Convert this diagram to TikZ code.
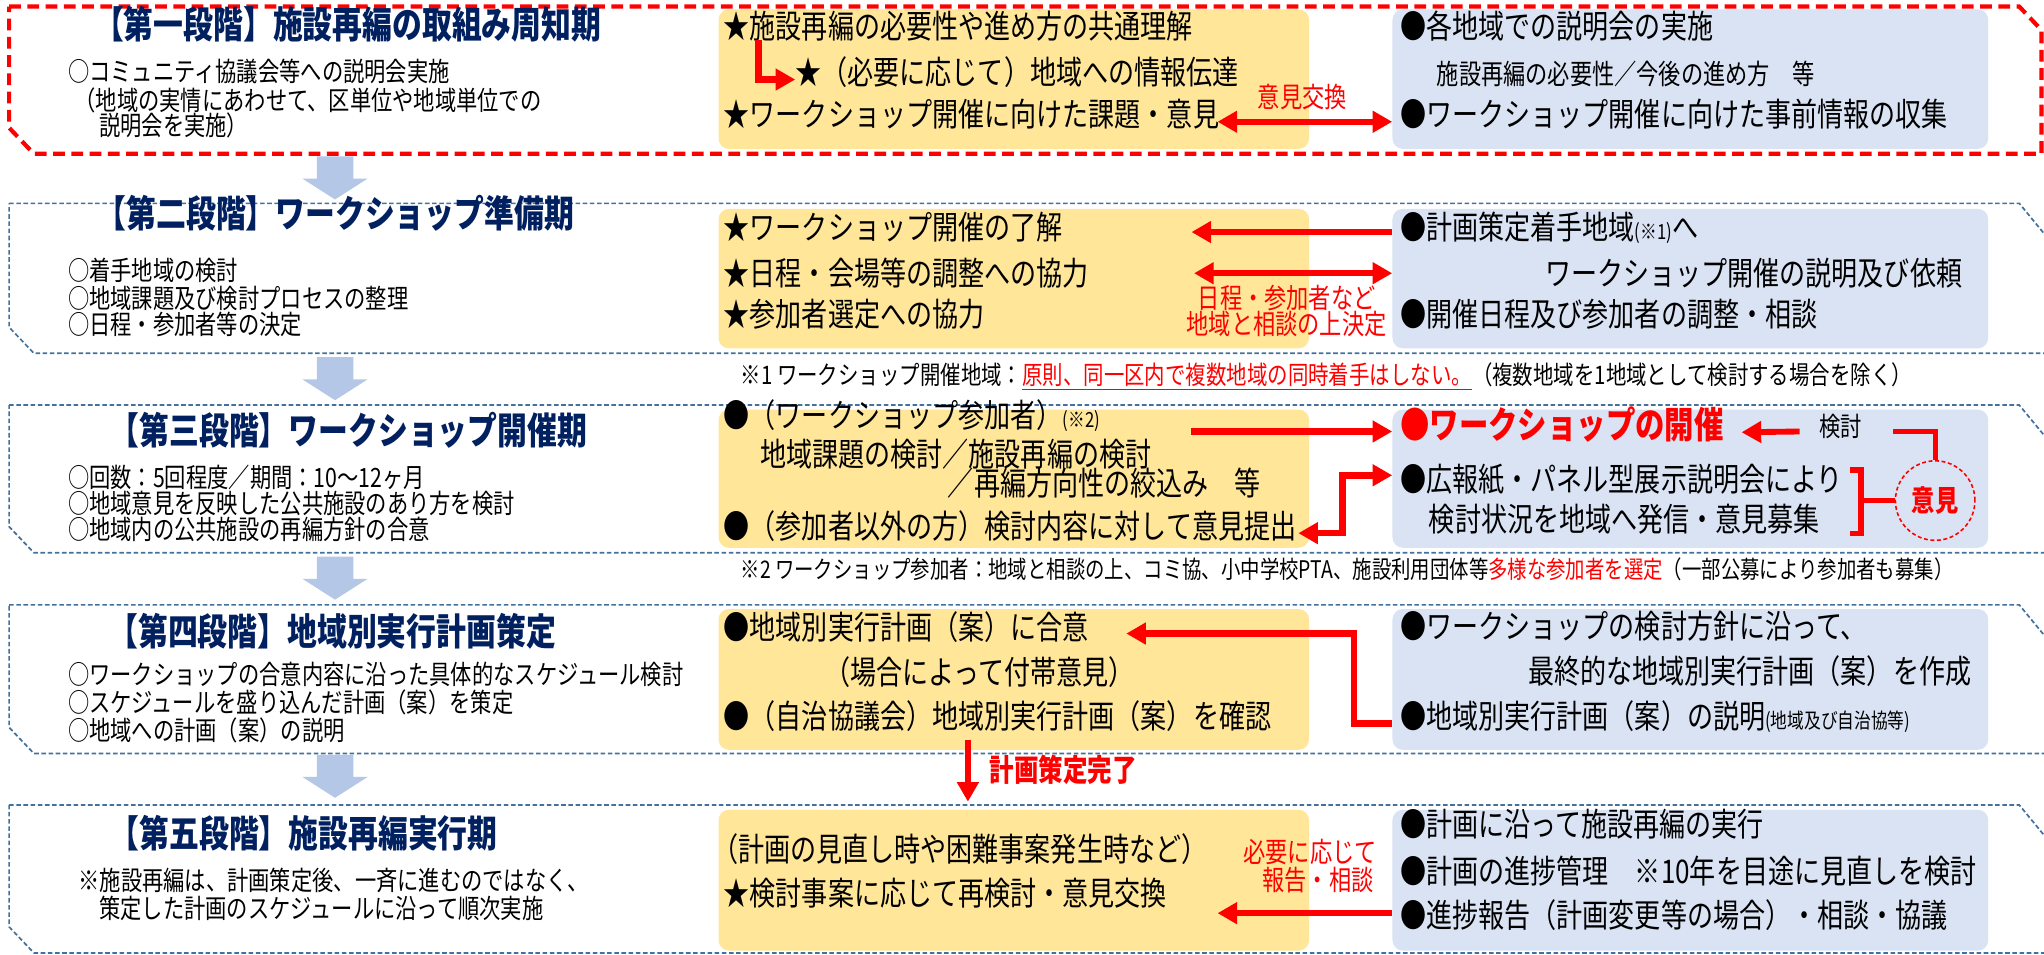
\documentclass[tikz,border=0pt]{standalone}
\usepackage{fontspec}
\setmainfont{Noto Sans CJK JP}[FakeStretch=0.8]
\usetikzlibrary{arrows.meta}
\definecolor{yelfill}{HTML}{FFE699}
\definecolor{blufill}{HTML}{DAE3F3}
\definecolor{navy}{HTML}{002060}
\definecolor{frameblue}{HTML}{41719C}
\definecolor{arrowblue}{HTML}{B4C7E7}
\newcommand{\fbody}{\fontsize{25}{29}\selectfont}
\newcommand{\ftitle}{\fontsize{28.6}{32}\selectfont\bfseries}
\newcommand{\fsub}{\fontsize{20.4}{23}\selectfont}
\newcommand{\fmid}{\fontsize{21.3}{24}\selectfont}
\newcommand{\fsmall}{\fontsize{16}{19}\selectfont}

\begin{document}
\begin{tikzpicture}[x=1pt,y=-1pt,>={Triangle[length=15pt,width=16pt]},
	txt/.style={anchor=west,inner sep=0pt,text height=0.88em,text depth=0.12em,font=\fbody},
	ttl/.style={txt,font=\ftitle,text=navy},
	sub/.style={txt,font=\fsub},
	lab/.style={inner sep=0pt,text height=0.88em,text depth=0.12em,font=\fmid,text=red},
	yel/.style={anchor=north west,fill=yelfill,rounded corners=8pt,minimum width=453pt,inner sep=0pt},
	blu/.style={anchor=north west,fill=blufill,rounded corners=8pt,minimum width=457pt,inner sep=0pt},
	redframe/.style={draw=red,line width=3.2pt,dash pattern=on 9pt off 5pt},
	blueframe/.style={draw=frameblue,line width=1.3pt,dash pattern=on 3.5pt off 2pt},
	redarr/.style={draw=red,line width=5pt},
	redln/.style={draw=red,line width=4pt}]

	\useasboundingbox (0,0) rectangle (1568,732);
	\fill[white] (0,0) rectangle (1568,732);
	\clip (0,0) rectangle (1568,732);

	\draw[redframe] (7,5) -- (1549,5) -- (1566,23) -- (1566,118) -- (26,118) -- (7,98) -- cycle;
	\foreach \ta/\tb in {156/271,310.7/424,464/578,617.5/731}
		\draw[blueframe] (7,\ta) -- (1549,\ta) -- (1572,\ta+28) -- (1572,\tb) -- (26,\tb) -- (7,\tb-20) -- cycle;
	\foreach \ya in {120,274,427,579}
		\fill[arrowblue] (243,\ya) -- (271,\ya) -- (271,\ya+17) -- (282,\ya+17) -- (257,\ya+33) -- (232,\ya+17) -- (243,\ya+17) -- cycle;

	\node[yel,minimum height=107pt] (y1) at (551,7) {};
	\node[blu,minimum height=107pt] (b1) at (1068,7) {};
	\node[yel,minimum height=107pt] (y2) at (551,160) {};
	\node[blu,minimum height=107pt] (b2) at (1068,160) {};
	\node[yel,minimum height=106pt] (y3) at (551,314) {};
	\node[blu,minimum height=106pt] (b3) at (1068,314) {};
	\node[yel,minimum height=108pt] (y4) at (551,467) {};
	\node[blu,minimum height=108pt] (b4) at (1068,467) {};
	\node[yel,minimum height=108pt] (y5) at (551,621) {};
	\node[blu,minimum height=108pt] (b5) at (1068,621) {};

	\node[ttl] (t1) at (72,25.6) {【第一段階】施設再編の取組み周知期};
	\node[sub] (l1a) at (52,59) {○コミュニティ協議会等への説明会実施};
	\node[sub] (l1b) at (57,80.6) {（地域の実情にあわせて、区単位や地域単位での};
	\node[sub] (l1c) at (76,100) {説明会を実施）};
	\node[txt] (y1a) at (555,25.6) {★施設再編の必要性や進め方の共通理解};
	\node[txt] (y1b) at (610,61) {★（必要に応じて）地域への情報伝達};
	\node[txt] (y1c) at (555,93.4) {★ワークショップ開催に向けた課題・意見};
	\node[txt] (b1a) at (1074,25.6) {●各地域での説明会の実施};
	\node[txt,font=\fmid] (b1b) at (1102,61) {施設再編の必要性／今後の進め方　等};
	\node[txt] (b1c) at (1074,93.4) {●ワークショップ開催に向けた事前情報の収集};
	\node[lab] (lab1) at (999,79) {意見交換};
	\draw[redarr,->] ([xshift=27pt]y1a.south west) |- (y1b.west);
	\coordinate (p1) at (934,93.4);
	\draw[redarr,<->] (p1) -- (b1.west |- p1);

	\node[ttl] (t2) at (74,170.5) {【第二段階】ワークショップ準備期};
	\node[sub] (l2a) at (52,211) {○着手地域の検討};
	\node[sub] (l2b) at (52,232.5) {○地域課題及び検討プロセスの整理};
	\node[sub] (l2c) at (52,253) {○日程・参加者等の決定};
	\node[txt] (y2a) at (555,180) {★ワークショップ開催の了解};
	\node[txt] (y2b) at (555,215) {★日程・会場等の調整への協力};
	\node[txt] (y2c) at (555,247) {★参加者選定への協力};
	\node[txt] (b2a) at (1074,180) {●計画策定着手地域{\fsmall(※1)}へ};
	\node[txt] (b2b) at (1185,215) {ワークショップ開催の説明及び依頼};
	\node[txt] (b2c) at (1074,247) {●開催日程及び参加者の調整・相談};
	\node[lab] (lab2a) at (987,232.7) {日程・参加者など};
	\node[lab] (lab2b) at (987,253) {地域と相談の上決定};
	\coordinate (p2) at (914,178);
	\coordinate (p3) at (916,209.6);
	\draw[redarr,->] (b2.west |- p2) -- (p2);
	\draw[redarr,<->] (p3) -- (b2.west |- p3);
	\node[txt,font=\fontsize{19.6}{22}\selectfont] (n1) at (568,291.5) {※1 ワークショップ開催地域：\textcolor{red}{\underline{原則、同一区内で複数地域の同時着手はしない。}}（複数地域を1地域として検討する場合を除く）};

	\node[ttl] (t3) at (84,337.5) {【第三段階】ワークショップ開催期};
	\node[sub] (l3a) at (52,370) {○回数：5回程度／期間：10～12ヶ月};
	\node[sub] (l3b) at (52,390) {○地域意見を反映した公共施設のあり方を検討};
	\node[sub] (l3c) at (52,410) {○地域内の公共施設の再編方針の合意};
	\node[txt] (y3a) at (555,324.5) {●（ワークショップ参加者）{\fsmall(※2)}};
	\node[txt] (y3b) at (583,354) {地域課題の検討／施設再編の検討};
	\node[txt] (y3c) at (727,376) {／再編方向性の絞込み　等};
	\node[txt] (y3d) at (555,409) {●（参加者以外の方）検討内容に対して意見提出};
	\node[txt,font=\fontsize{28.2}{32}\selectfont\bfseries,text=red] (b3a) at (1074,332.6) {●ワークショップの開催};
	\node[txt] (b3b) at (1074,373.4) {●広報紙・パネル型展示説明会により};
	\node[txt] (b3c) at (1096,404) {検討状況を地域へ発信・意見募集};
	\node[lab,text=black,font=\fsub] (ken) at (1412,331) {検討};
	\node[circle,draw=red,line width=1.2pt,dash pattern=on 3pt off 2pt,minimum size=61pt,inner sep=0pt,font=\fontsize{22.3}{25}\selectfont\bfseries,text=red] (ci) at (1484.5,384) {意見};
	\coordinate (p4) at (914,331);
	\coordinate (p5) at (1030,364.6);
	\coordinate (p6) at (996,409);
	\coordinate (p7) at (1336,331.6);
	\draw[redarr,->] (p4) -- (b3.west |- p4);
	\draw[redarr,<->] (b3.west |- p5) -- (p5) |- (p6);
	\draw[redarr,line width=4.5pt,->] ([xshift=-15pt]ken.west) -- (p7);
	\draw[redln] ([xshift=24pt]ken.east) -| (ci.north);
	\coordinate (q1) at (1419,360.5);
	\coordinate (q2) at (1427.6,409);
	\draw[redln] (q1) -| (q2) -- (q2 -| q1);
	\draw[redln] (q2 |- ci.west) -- (ci.west);
	\node[txt,font=\fontsize{18.6}{21}\selectfont] (n2) at (568,440) {※2 ワークショップ参加者：地域と相談の上、コミ協、小中学校PTA、施設利用団体等\textcolor{red}{多様な参加者を選定}（一部公募により参加者も募集）};

	\node[ttl] (t4) at (83,491) {【第四段階】地域別実行計画策定};
	\node[sub] (l4a) at (52,521.6) {○ワークショップの合意内容に沿った具体的なスケジュール検討};
	\node[sub] (l4b) at (52,543) {○スケジュールを盛り込んだ計画（案）を策定};
	\node[sub] (l4c) at (52,564) {○地域への計画（案）の説明};
	\node[txt] (y4a) at (555,487) {●地域別実行計画（案）に合意};
	\node[txt] (y4b) at (632,521.6) {（場合によって付帯意見）};
	\node[txt] (y4c) at (555,555) {●（自治協議会）地域別実行計画（案）を確認};
	\node[txt] (b4a) at (1074,486) {●ワークショップの検討方針に沿って、};
	\node[txt] (b4b) at (1172,520.4) {最終的な地域別実行計画（案）を作成};
	\node[txt] (b4c) at (1074,555) {●地域別実行計画（案）の説明{\fsmall(地域及び自治協等)}};
	\coordinate (p8) at (1038.6,486);
	\coordinate (p9) at (864,486);
	\draw[redarr,->] (b4.west |- b4c.west) -| (p8) -- (p9);
	\coordinate (p10) at (742.5,568);
	\coordinate (p11) at (742.5,615);
	\draw[redarr,->] (p10) -- (p11);
	\node[lab,anchor=west,font=\fontsize{23.5}{27}\selectfont\bfseries] (kan) at (759,596) {計画策定完了};

	\node[ttl] (t5) at (84,646) {【第五段階】施設再編実行期};
	\node[sub] (l5a) at (60,679) {※施設再編は、計画策定後、一斉に進むのではなく、};
	\node[sub] (l5b) at (76,701) {策定した計画のスケジュールに沿って順次実施};
	\node[txt] (y5a) at (546,657) {（計画の見直し時や困難事案発生時など）};
	\node[txt] (y5b) at (555,690.5) {★検討事案に応じて再検討・意見交換};
	\node[txt] (b5a) at (1074,638) {●計画に沿って施設再編の実行};
	\node[txt] (b5b) at (1074,674) {●計画の進捗管理　※10年を目途に見直しを検討};
	\node[txt] (b5c) at (1074,708) {●進捗報告（計画変更等の場合）・相談・協議};
	\node[lab] (lab5a) at (1005,658) {必要に応じて};
	\node[lab] (lab5b) at (1011,679) {報告・相談};
	\coordinate (p12) at (934,700.5);
	\draw[redarr,->] (b5.west |- p12) -- (p12);
\end{tikzpicture}
\end{document}
